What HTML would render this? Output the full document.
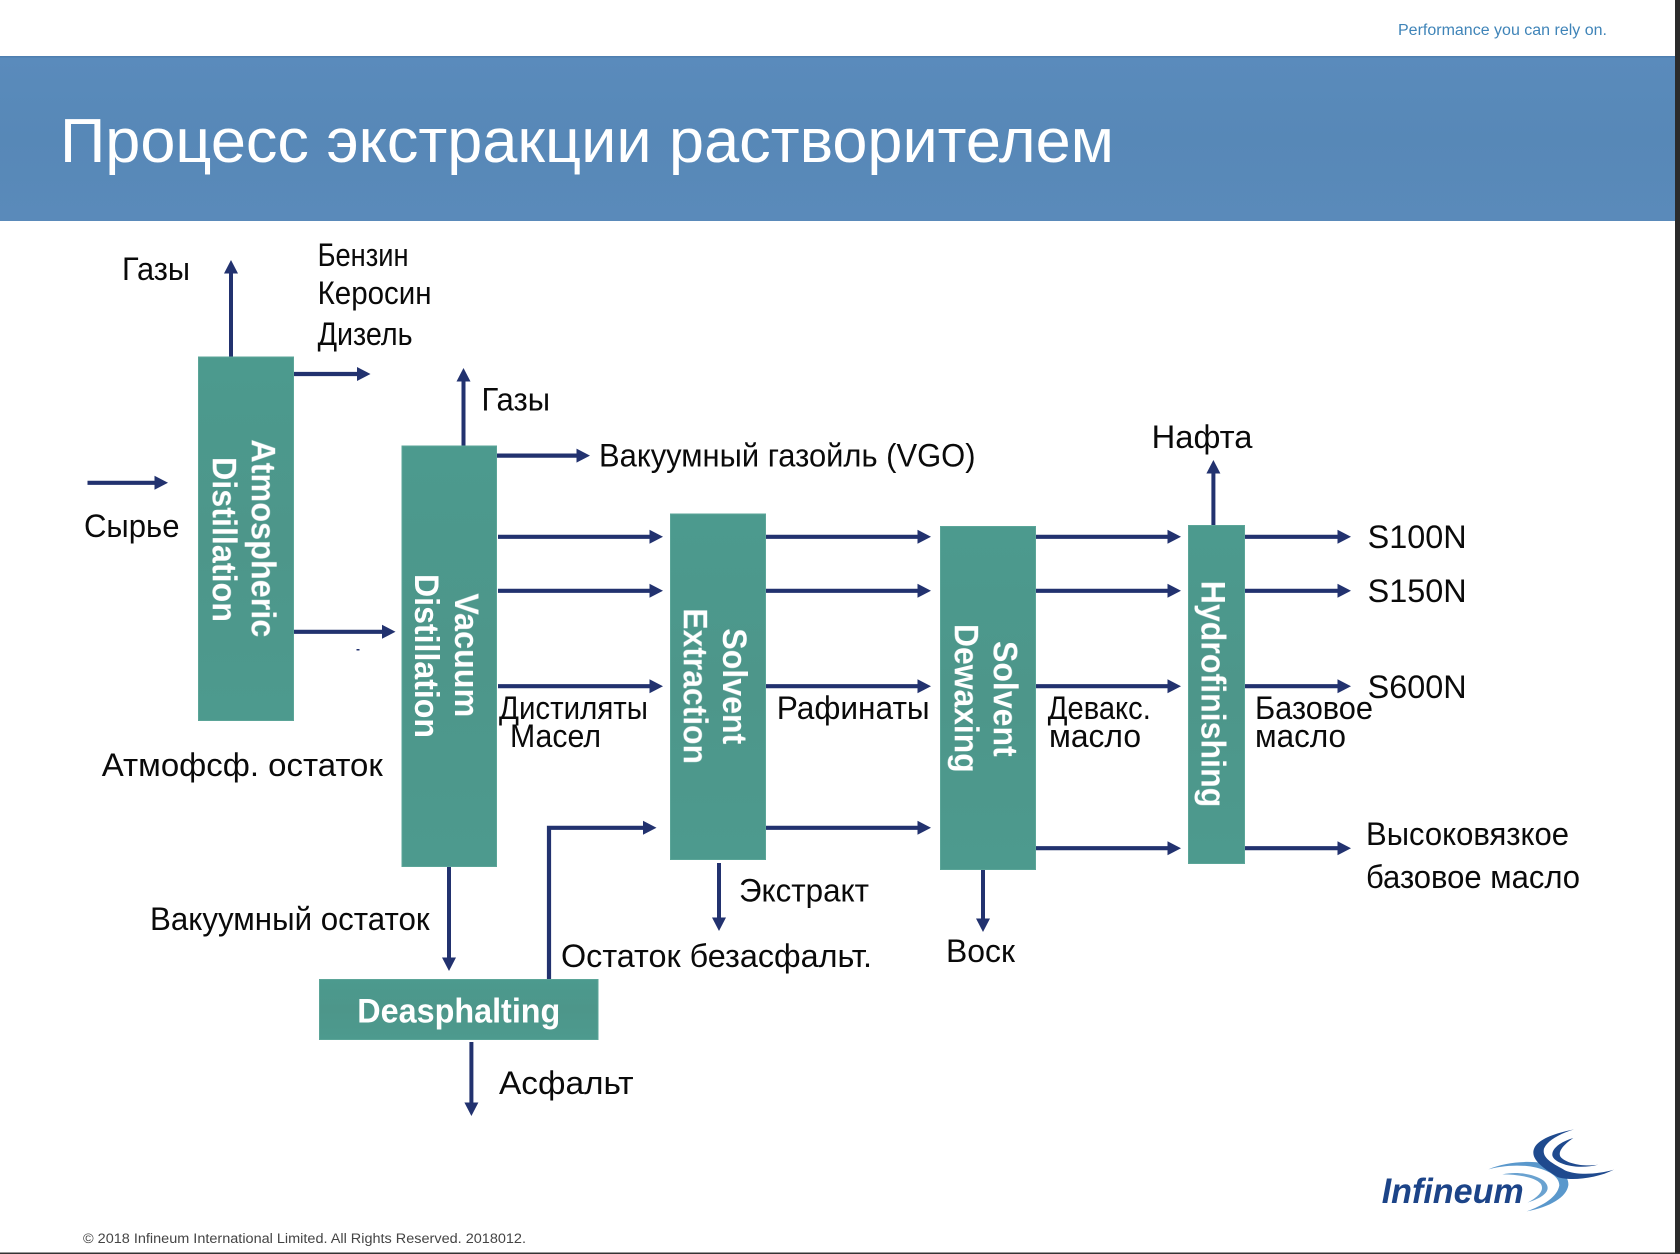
<!DOCTYPE html>
<html lang="ru">
<head>
<meta charset="utf-8">
<title>Процесс экстракции растворителем</title>
<style>
html,body{margin:0;padding:0;background:#fff;width:1680px;height:1254px;overflow:hidden}
svg{display:block}
text{font-family:"Liberation Sans",sans-serif}
.l{font-size:32.5px;fill:#0a0a0a}
.b{font-size:34px;font-weight:bold;fill:#fff;filter:url(#sh)}
.a{stroke:#22326f;stroke-width:4.2;fill:none;marker-end:url(#h)}
.v{stroke:#22326f;stroke-width:4;fill:none;marker-end:url(#h)}
.box{fill:url(#tg);stroke:#5ba598;stroke-width:1}
</style>
</head>
<body>
<svg xmlns="http://www.w3.org/2000/svg" width="1680" height="1254" viewBox="0 0 1680 1254">
<defs>
<marker id="h" markerUnits="userSpaceOnUse" markerWidth="15" markerHeight="16" refX="0" refY="8" orient="auto">
<path d="M0 1L13.5 8L0 15Z" fill="#22326f"/>
</marker>
<linearGradient id="tg" x1="0" y1="0" x2="0" y2="1">
<stop offset="0" stop-color="#4c9a8e"/><stop offset="0.5" stop-color="#4d968a"/><stop offset="1" stop-color="#4d9a8e"/>
</linearGradient>
<linearGradient id="bn" x1="0" y1="0" x2="0" y2="1">
<stop offset="0" stop-color="#5a8bbc"/><stop offset="0.5" stop-color="#5788b7"/><stop offset="1" stop-color="#5a8aba"/>
</linearGradient>
<filter id="sh" x="-10%" y="-10%" width="120%" height="120%"><feGaussianBlur stdDeviation="0.35"/></filter>
</defs>

<rect width="1680" height="1254" fill="#fff"/>
<rect x="0" y="56" width="1675" height="165" fill="url(#bn)"/>
<rect x="0" y="56" width="1675" height="1.5" fill="#4f7fb0"/>
<text x="60" y="162" font-size="62" fill="#fff" textLength="1054" lengthAdjust="spacingAndGlyphs">Процесс экстракции растворителем</text>
<text x="1398" y="35" font-size="15.5" fill="#3f84b8" textLength="209" lengthAdjust="spacingAndGlyphs">Performance you can rely on.</text>

<!-- connectors -->
<line class="v" x1="231" y1="357" x2="231" y2="273.5"/>
<line class="a" x1="293" y1="374" x2="357" y2="374"/>
<line class="v" x1="463.5" y1="446" x2="463.5" y2="381.5"/>
<line class="a" x1="496" y1="455.6" x2="576.5" y2="455.6"/>
<line class="a" x1="87.5" y1="482.8" x2="154.5" y2="482.8"/>
<line class="a" x1="293" y1="631.8" x2="382" y2="631.8"/>
<rect x="356.5" y="649" width="3" height="1.5" fill="#22326f"/>

<line class="a" x1="498" y1="536.8" x2="649.5" y2="536.8"/>
<line class="a" x1="498" y1="590.8" x2="649.5" y2="590.8"/>
<line class="a" x1="498" y1="686.2" x2="649.5" y2="686.2"/>
<line class="a" x1="765" y1="536.8" x2="917.5" y2="536.8"/>
<line class="a" x1="765" y1="590.8" x2="917.5" y2="590.8"/>
<line class="a" x1="765" y1="686.2" x2="917.5" y2="686.2"/>
<line class="a" x1="765" y1="827.8" x2="917.5" y2="827.8"/>
<line class="a" x1="1035" y1="536.8" x2="1167.5" y2="536.8"/>
<line class="a" x1="1035" y1="590.8" x2="1167.5" y2="590.8"/>
<line class="a" x1="1035" y1="686.2" x2="1167.5" y2="686.2"/>
<line class="a" x1="1035" y1="848.2" x2="1167.5" y2="848.2"/>
<line class="a" x1="1244" y1="536.8" x2="1337.5" y2="536.8"/>
<line class="a" x1="1244" y1="590.8" x2="1337.5" y2="590.8"/>
<line class="a" x1="1244" y1="686.2" x2="1337.5" y2="686.2"/>
<line class="a" x1="1244" y1="848.2" x2="1337.5" y2="848.2"/>
<polyline class="a" points="549,980 549,827.8 643,827.8"/>
<line class="v" x1="449" y1="866" x2="449" y2="957.5"/>
<line class="v" x1="719" y1="863" x2="719" y2="917.5"/>
<line class="v" x1="983" y1="870" x2="983" y2="918.5"/>
<line class="v" x1="471.4" y1="1042" x2="471.4" y2="1102.5"/>
<line class="v" x1="1213.4" y1="526" x2="1213.4" y2="473.5"/>

<!-- boxes -->
<rect class="box" x="198.5" y="357" width="95" height="363.5"/>
<rect class="box" x="402" y="446" width="94.5" height="420.5"/>
<rect class="box" x="670.5" y="514" width="95" height="345.5"/>
<rect class="box" x="940.5" y="526.5" width="95" height="343"/>
<rect class="box" x="1188.5" y="525.5" width="56" height="338"/>
<rect class="box" x="319.5" y="979.5" width="278.5" height="60"/>

<!-- box labels -->
<text class="b" transform="translate(251.7,439.3) rotate(90)" textLength="198" lengthAdjust="spacingAndGlyphs">Atmospheric</text>
<text class="b" transform="translate(212.7,457) rotate(90)" textLength="165" lengthAdjust="spacingAndGlyphs">Distillation</text>
<text class="b" transform="translate(455,593.3) rotate(90)" textLength="124" lengthAdjust="spacingAndGlyphs">Vacuum</text>
<text class="b" transform="translate(415,574) rotate(90)" textLength="164" lengthAdjust="spacingAndGlyphs">Distillation</text>
<text class="b" transform="translate(723,628.3) rotate(90)" textLength="116" lengthAdjust="spacingAndGlyphs">Solvent</text>
<text class="b" transform="translate(683.7,608.3) rotate(90)" textLength="155.7" lengthAdjust="spacingAndGlyphs">Extraction</text>
<text class="b" transform="translate(993.7,641) rotate(90)" textLength="115.7" lengthAdjust="spacingAndGlyphs">Solvent</text>
<text class="b" transform="translate(954.7,624) rotate(90)" textLength="148.7" lengthAdjust="spacingAndGlyphs">Dewaxing</text>
<text class="b" transform="translate(1201.5,580.7) rotate(90)" textLength="226.6" lengthAdjust="spacingAndGlyphs">Hydrofinishing</text>
<text class="b" x="357.3" y="1022.5" textLength="203" lengthAdjust="spacingAndGlyphs">Deasphalting</text>

<!-- labels -->
<text class="l" x="122" y="280" textLength="68" lengthAdjust="spacingAndGlyphs">Газы</text>
<text class="l" x="317.6" y="266" textLength="91" lengthAdjust="spacingAndGlyphs">Бензин</text>
<text class="l" x="317.6" y="304" textLength="114" lengthAdjust="spacingAndGlyphs">Керосин</text>
<text class="l" x="317.6" y="344.8" textLength="95" lengthAdjust="spacingAndGlyphs">Дизель</text>
<text class="l" x="481.5" y="410.4" textLength="68.5" lengthAdjust="spacingAndGlyphs">Газы</text>
<text class="l" x="599" y="466.4" textLength="376.5" lengthAdjust="spacingAndGlyphs">Вакуумный газойль (VGO)</text>
<text class="l" x="84" y="536.8" textLength="95.5" lengthAdjust="spacingAndGlyphs">Сырье</text>
<text class="l" x="1151.7" y="448" textLength="100.8" lengthAdjust="spacingAndGlyphs">Нафта</text>
<text class="l" x="1367.6" y="548" textLength="99" lengthAdjust="spacingAndGlyphs">S100N</text>
<text class="l" x="1367.6" y="602" textLength="99" lengthAdjust="spacingAndGlyphs">S150N</text>
<text class="l" x="1367.6" y="697.8" textLength="99" lengthAdjust="spacingAndGlyphs">S600N</text>
<text class="l" x="499" y="719" textLength="149" lengthAdjust="spacingAndGlyphs">Дистиляты</text>
<text class="l" x="510" y="747" textLength="91" lengthAdjust="spacingAndGlyphs">Масел</text>
<text class="l" x="776.7" y="719" textLength="153" lengthAdjust="spacingAndGlyphs">Рафинаты</text>
<text class="l" x="1047.8" y="719" textLength="103" lengthAdjust="spacingAndGlyphs">Девакс.</text>
<text class="l" x="1049" y="747" textLength="92" lengthAdjust="spacingAndGlyphs">масло</text>
<text class="l" x="1255" y="719" textLength="118" lengthAdjust="spacingAndGlyphs">Базовое</text>
<text class="l" x="1255" y="747" textLength="91" lengthAdjust="spacingAndGlyphs">масло</text>
<text class="l" x="101.8" y="775.8" textLength="281" lengthAdjust="spacingAndGlyphs">Атмофсф. остаток</text>
<text class="l" x="150" y="929.8" textLength="279.6" lengthAdjust="spacingAndGlyphs">Вакуумный остаток</text>
<text class="l" x="739" y="901.4" textLength="130" lengthAdjust="spacingAndGlyphs">Экстракт</text>
<text class="l" x="561" y="967" textLength="311" lengthAdjust="spacingAndGlyphs">Остаток безасфальт.</text>
<text class="l" x="946" y="961.8" textLength="69" lengthAdjust="spacingAndGlyphs">Воск</text>
<text class="l" x="499" y="1093.8" textLength="134.6" lengthAdjust="spacingAndGlyphs">Асфальт</text>
<text class="l" x="1366" y="845" textLength="203" lengthAdjust="spacingAndGlyphs">Высоковязкое</text>
<text class="l" x="1366" y="887.8" textLength="214" lengthAdjust="spacingAndGlyphs">базовое масло</text>

<!-- footer -->
<text x="83" y="1243" font-size="13.5" fill="#444" textLength="443" lengthAdjust="spacingAndGlyphs">© 2018 Infineum International Limited. All Rights Reserved. 2018012.</text>

<!-- logo -->
<text x="1381.7" y="1203" font-size="35" font-weight="bold" font-style="italic" fill="#1c4488" textLength="142" lengthAdjust="spacingAndGlyphs">Infineum</text>
<g transform="translate(1470,1122) scale(0.3333)">
<path d="M55 142C100 122 170 115 215 123C265 133 298 160 295 190C290 225 240 255 170 268C220 250 262 225 268 190C268 160 225 138 170 132C125 128 85 134 55 142Z" fill="#5a98cc"/>
<path d="M97 157C140 148 190 155 220 175C243 195 240 220 172 242C205 225 225 205 212 185C195 165 140 157 97 157Z" fill="#6aa2d0"/>
<path d="M312 22C250 35 190 55 190 92C190 120 230 145 262 165C300 178 380 170 432 143C380 158 320 160 285 145C250 125 215 110 222 80C232 55 270 35 312 22Z" fill="#1f4a8e"/>
<path d="M310 48C270 60 245 80 247 100C252 125 320 145 385 128C340 135 290 125 272 105C262 90 280 68 310 48Z" fill="#1f4a8e"/>
</g>

<!-- frame edges -->
<rect x="1675" y="0" width="5" height="1254" fill="#2b2b2b"/>
<rect x="0" y="1252.5" width="1680" height="1.5" fill="#333"/>
</svg>
</body>
</html>
